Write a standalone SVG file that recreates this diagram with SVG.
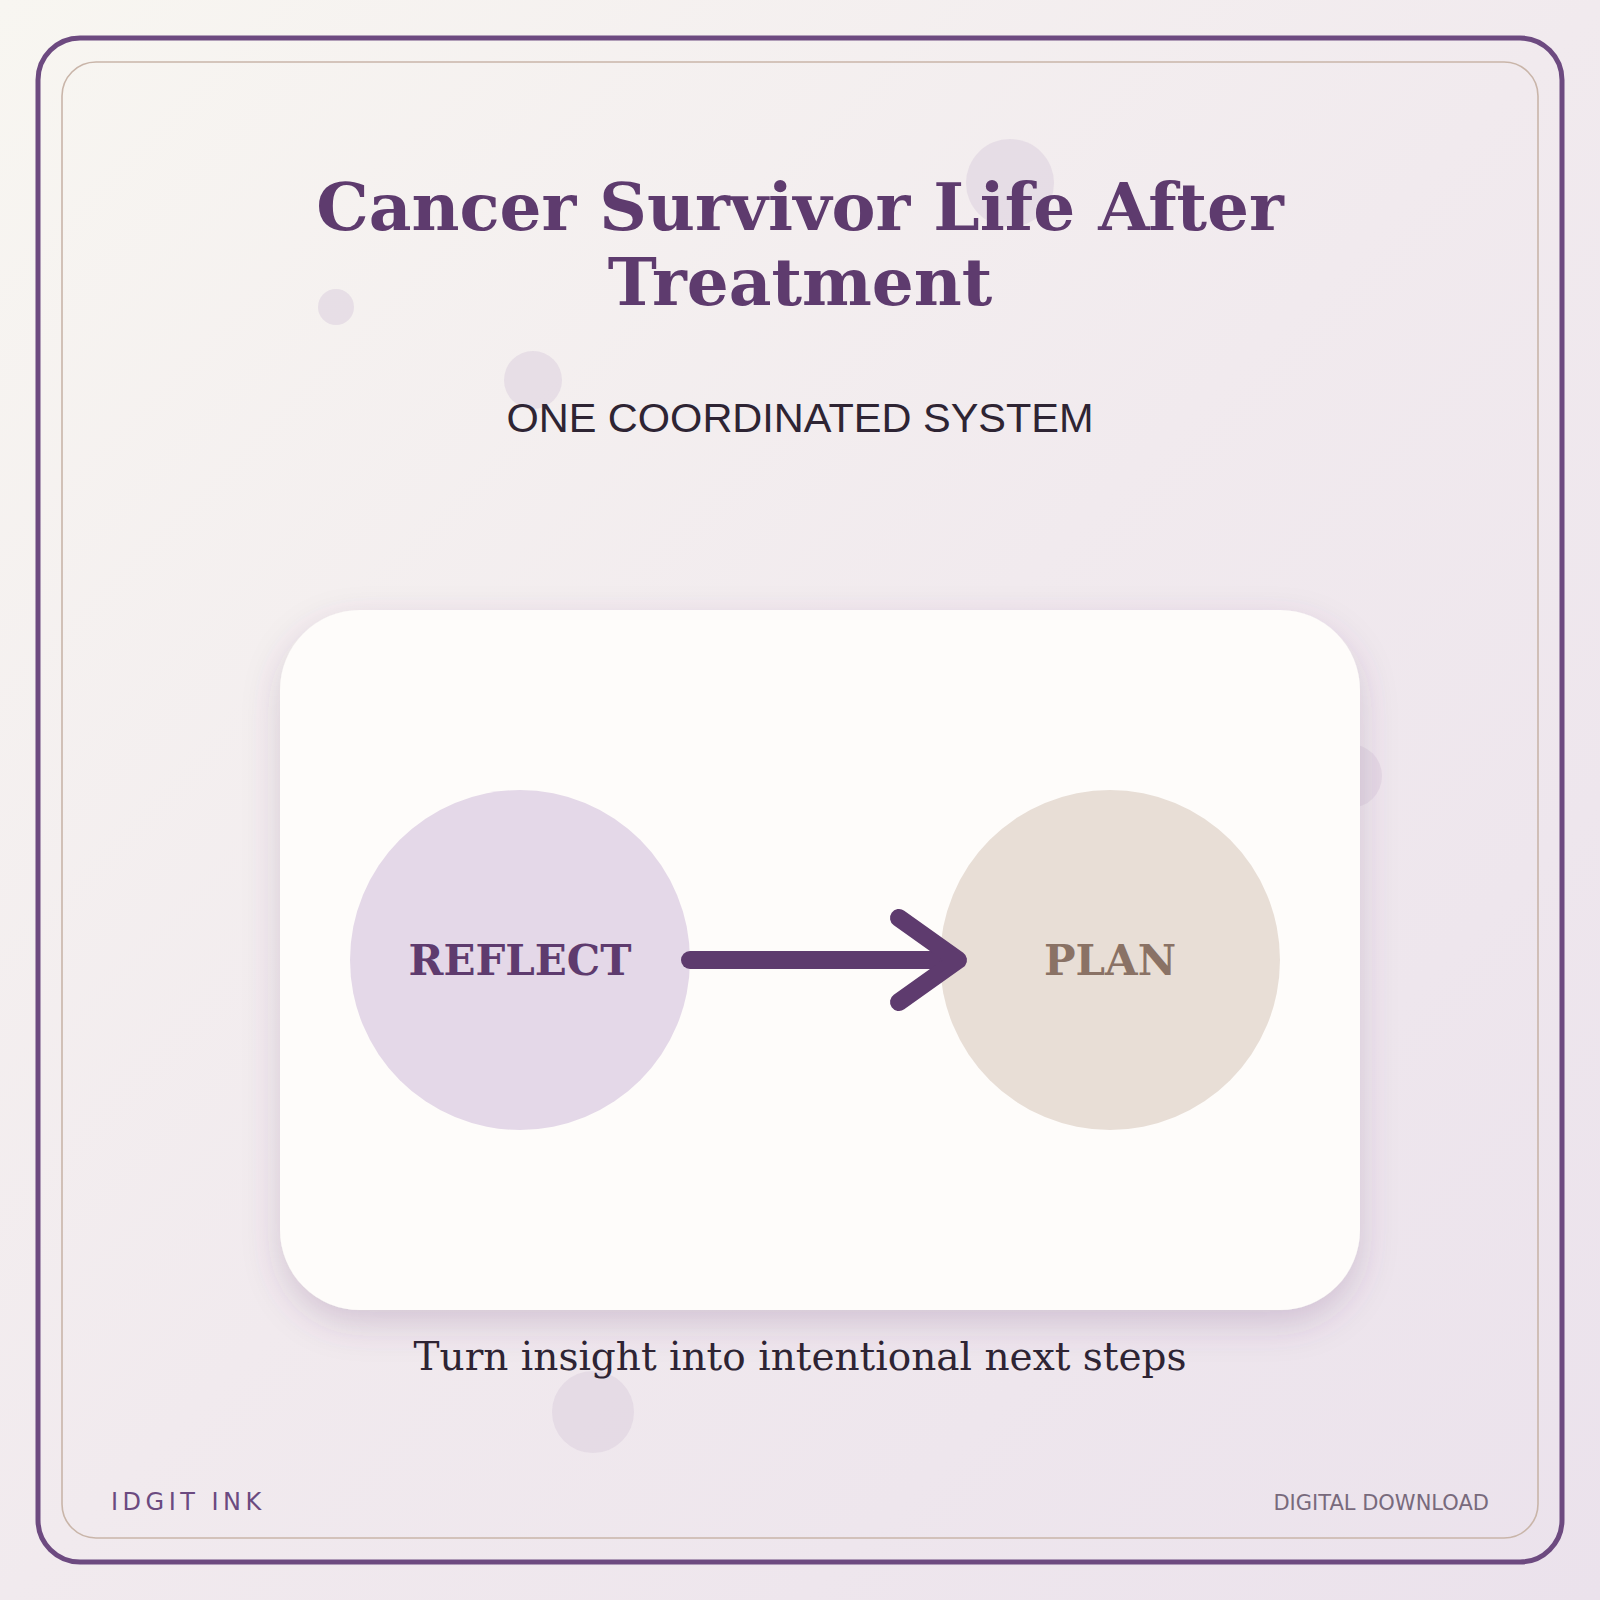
<svg xmlns="http://www.w3.org/2000/svg" width="1600" height="1600" viewBox="0 0 1600 1600">
  <defs>
    <linearGradient id="bg" x1="0" y1="0" x2="1" y2="1">
      <stop offset="0" stop-color="#f8f6f1"/>
      <stop offset="0.5" stop-color="#f1eaee"/>
      <stop offset="1" stop-color="#ebe2ec"/>
    </linearGradient>
    <filter id="shadow" x="-20%" y="-20%" width="140%" height="140%">
      <feDropShadow dx="0" dy="14" stdDeviation="18" flood-color="#5e3b6e" flood-opacity="0.2"/>
    </filter>
  </defs>
  <style>
    .deco { fill: #ddd2e0; opacity: 0.6; }
    .title { font-family: "DejaVu Serif", serif; font-weight: bold; font-size: 66px; fill: #5e3b6e; text-anchor: middle; }
    .sub { font-family: "Liberation Sans", Arial, sans-serif; font-size: 41.5px; fill: #2e2433; text-anchor: middle; }
    .label { font-family: "DejaVu Serif", serif; font-weight: bold; font-size: 42px; text-anchor: middle; }
    .caption { font-family: "DejaVu Serif", serif; font-size: 39px; fill: #2e2433; text-anchor: middle; }
    .brand { font-family: "DejaVu Sans", sans-serif; font-size: 24px; letter-spacing: 4.5px; fill: #6b4a80; }
    .dl { font-family: "DejaVu Sans", sans-serif; font-size: 21px; fill: #786a7c; text-anchor: end; }
    .conn { fill: none; stroke: #5e3b6e; stroke-width: 18; stroke-linecap: round; stroke-linejoin: round; }
  </style>

  <rect width="1600" height="1600" fill="url(#bg)"/>

  <g id="decorations">
    <circle class="deco" cx="1010" cy="183" r="44"/>
    <circle class="deco" cx="336" cy="307" r="18"/>
    <circle class="deco" cx="533" cy="380" r="29"/>
    <circle class="deco" cx="1350" cy="776" r="32"/>
    <circle class="deco" cx="593" cy="1412" r="41"/>
  </g>

  <g id="frame">
    <rect x="38" y="38" width="1524" height="1524" rx="42" fill="none" stroke="#6d4a80" stroke-width="5"/>
    <rect x="62" y="62" width="1476" height="1476" rx="34" fill="none" stroke="#c9b5a9" stroke-width="1.6"/>
  </g>

  <g id="title">
    <text class="title" x="800" y="230">Cancer Survivor Life After</text>
    <text class="title" x="800" y="305">Treatment</text>
  </g>

  <g id="subtitle">
    <text class="sub" x="800" y="432">ONE COORDINATED SYSTEM</text>
  </g>

  <g id="card">
    <rect x="280" y="610" width="1080" height="700" rx="80" fill="#fefcfa" filter="url(#shadow)"/>
  </g>

  <g id="node-reflect">
    <circle cx="520" cy="960" r="170" fill="#e4d8e8"/>
    <text class="label" x="520" y="975" fill="#5e3b6e">REFLECT</text>
  </g>

  <g id="node-plan">
    <circle cx="1110" cy="960" r="170" fill="#e8ded6"/>
    <text class="label" x="1110" y="975" fill="#8a7265">PLAN</text>
  </g>

  <g id="connectors">
    <path class="conn" d="M690 960 L952 960"/>
    <path class="conn" d="M899 918 L958 960 L899 1002"/>
  </g>

  <g id="caption">
    <text class="caption" x="800" y="1370">Turn insight into intentional next steps</text>
  </g>

  <g id="footer">
    <text class="brand" x="111" y="1510">IDGIT INK</text>
    <text class="dl" x="1489" y="1510">DIGITAL DOWNLOAD</text>
  </g>
</svg>
